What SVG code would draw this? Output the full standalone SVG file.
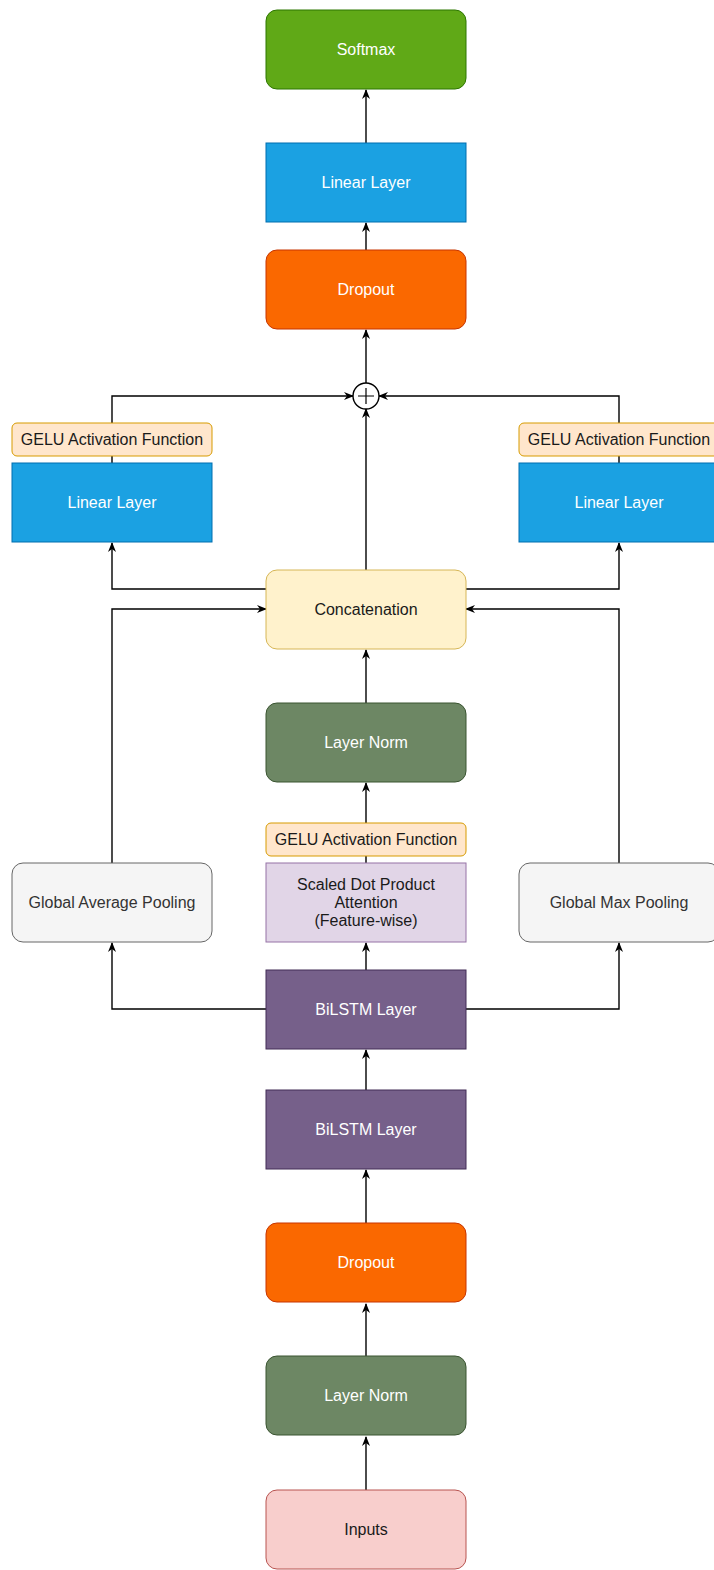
<svg xmlns="http://www.w3.org/2000/svg" width="714" height="1570" viewBox="0 0 714 1570">
<defs>
<marker id="arr" viewBox="0 0 10 10" refX="9" refY="5" markerWidth="10" markerHeight="10" markerUnits="userSpaceOnUse" orient="auto">
<path d="M0,1 L10,5 L0,9 L3,5 z" fill="#000"/>
</marker>
<style>
text{font-family:"Liberation Sans",Arial,sans-serif;font-size:16px;text-anchor:middle}
.w{fill:#ffffff}
.d{fill:#1a1a1a}
.g{fill:#333333}
.e{fill:none;stroke:#000;stroke-width:1.4}
.ea{fill:none;stroke:#000;stroke-width:1.4;marker-end:url(#arr)}
.softmax{fill:#60a917;stroke:#2d7600}
.linear{fill:#1ba1e2;stroke:#006eaf}
.dropout{fill:#fa6800;stroke:#c73500}
.gelu{fill:#ffe6cc;stroke:#d79b00}
.concat{fill:#fff2cc;stroke:#d6b656}
.norm{fill:#6d8764;stroke:#3a5431}
.attn{fill:#e1d5e7;stroke:#9673a6}
.pool{fill:#f5f5f5;stroke:#666666}
.lstm{fill:#76608a;stroke:#432d57}
.inputs{fill:#f8cecc;stroke:#b85450}
</style>
</defs>
<rect width="714" height="1570" fill="#ffffff"/>
<g id="connectors">
<path class="ea" d="M366,1490 L366,1437"/>
<path class="ea" d="M366,1356 L366,1304"/>
<path class="ea" d="M366,1223 L366,1170"/>
<path class="ea" d="M366,1090 L366,1050"/>
<path class="ea" d="M366,970 L366,943"/>
<path class="ea" d="M266,1009 L112,1009 L112,943"/>
<path class="ea" d="M466,1009 L619,1009 L619,943"/>
<path class="e" d="M366,863 L366,856"/>
<path class="ea" d="M366,823 L366,783"/>
<path class="ea" d="M366,703 L366,650"/>
<path class="ea" d="M112,863 L112,609 L266,609"/>
<path class="ea" d="M619,863 L619,609 L466,609"/>
<path class="ea" d="M266,589 L112,589 L112,543"/>
<path class="ea" d="M466,589 L619,589 L619,543"/>
<path class="e" d="M112,463 L112,456"/>
<path class="e" d="M619,463 L619,456"/>
<path class="ea" d="M112,423 L112,396 L353,396"/>
<path class="ea" d="M619,423 L619,396 L379,396"/>
<path class="ea" d="M366,570 L366,409"/>
<path class="ea" d="M366,383 L366,330"/>
<path class="ea" d="M366,250 L366,223"/>
<path class="ea" d="M366,143 L366,90"/>
</g>
<g id="softmax"><rect class="softmax" x="266" y="10" width="200" height="79" rx="11"/><text class="w" x="366" y="55">Softmax</text></g>
<g id="linear-top"><rect class="linear" x="266" y="143" width="200" height="79"/><text class="w" x="366" y="188">Linear Layer</text></g>
<g id="dropout-top"><rect class="dropout" x="266" y="250" width="200" height="79" rx="11"/><text class="w" x="366" y="295">Dropout</text></g>
<g id="sum"><circle cx="366" cy="396" r="13" fill="#ffffff" stroke="#000" stroke-width="1.4"/><path d="M366,388 L366,404 M358,396 L374,396" stroke="#000" stroke-width="1.2"/></g>
<g id="gelu-left"><rect class="gelu" x="12" y="423" width="200" height="33" rx="5"/><text class="d" x="112" y="445">GELU Activation Function</text></g>
<g id="linear-left"><rect class="linear" x="12" y="463" width="200" height="79"/><text class="w" x="112" y="508">Linear Layer</text></g>
<g id="gelu-right"><rect class="gelu" x="519" y="423" width="200" height="33" rx="5"/><text class="d" x="619" y="445">GELU Activation Function</text></g>
<g id="linear-right"><rect class="linear" x="519" y="463" width="200" height="79"/><text class="w" x="619" y="508">Linear Layer</text></g>
<g id="concat"><rect class="concat" x="266" y="570" width="200" height="79" rx="11"/><text class="d" x="366" y="615">Concatenation</text></g>
<g id="layernorm-mid"><rect class="norm" x="266" y="703" width="200" height="79" rx="11"/><text class="w" x="366" y="748">Layer Norm</text></g>
<g id="gelu-mid"><rect class="gelu" x="266" y="823" width="200" height="33" rx="5"/><text class="d" x="366" y="845">GELU Activation Function</text></g>
<g id="attention"><rect class="attn" x="266" y="863" width="200" height="79"/><text class="d" x="366" y="890">Scaled Dot Product</text><text class="d" x="366" y="908">Attention</text><text class="d" x="366" y="926">(Feature-wise)</text></g>
<g id="avgpool"><rect class="pool" x="12" y="863" width="200" height="79" rx="11"/><text class="g" x="112" y="908">Global Average Pooling</text></g>
<g id="maxpool"><rect class="pool" x="519" y="863" width="200" height="79" rx="11"/><text class="g" x="619" y="908">Global Max Pooling</text></g>
<g id="bilstm1"><rect class="lstm" x="266" y="970" width="200" height="79"/><text class="w" x="366" y="1015">BiLSTM Layer</text></g>
<g id="bilstm2"><rect class="lstm" x="266" y="1090" width="200" height="79"/><text class="w" x="366" y="1135">BiLSTM Layer</text></g>
<g id="dropout-bottom"><rect class="dropout" x="266" y="1223" width="200" height="79" rx="11"/><text class="w" x="366" y="1268">Dropout</text></g>
<g id="layernorm-bottom"><rect class="norm" x="266" y="1356" width="200" height="79" rx="11"/><text class="w" x="366" y="1401">Layer Norm</text></g>
<g id="inputs"><rect class="inputs" x="266" y="1490" width="200" height="79" rx="11"/><text class="d" x="366" y="1535">Inputs</text></g>
</svg>
